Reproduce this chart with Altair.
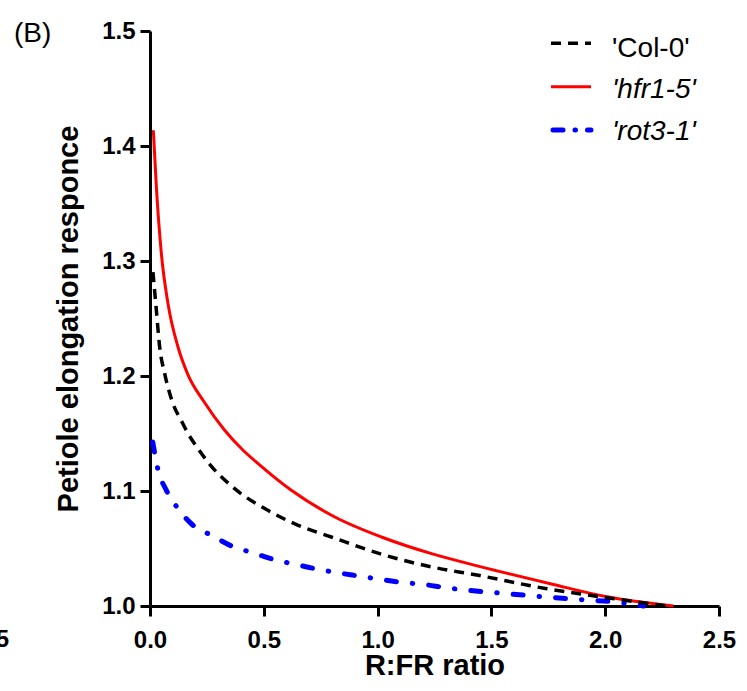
import altair as alt
import pandas as pd

# ---- data ----
series_names = ["'Col-0'", "'hfr1-5'", "'rot3-1'"]

col_x = [0.013, 0.028, 0.0425, 0.0645, 0.101, 0.138, 0.167, 0.211, 0.255, 0.372, 0.504, 0.651, 0.797,
         1.017, 1.237, 1.442, 1.744, 1.979, 2.27]
col_y = [1.2904, 1.257, 1.2252, 1.2021, 1.176, 1.161, 1.150, 1.1369, 1.125, 1.102, 1.0847, 1.0702, 1.060,
         1.045, 1.034, 1.0267, 1.015, 1.008, 1.0]

hfr_x = [0.0147, 0.028, 0.050, 0.079, 0.123, 0.167, 0.236, 0.328, 0.409, 0.475, 0.621, 0.812, 1.017,
         1.237, 1.442, 1.759, 2.008, 2.30]
hfr_y = [1.4137, 1.3643, 1.3064, 1.263, 1.2252, 1.201, 1.178, 1.1528, 1.1354, 1.1238, 1.1006, 1.0774, 1.060,
         1.0455, 1.0347, 1.0194, 1.008, 1.0]

rot_x = [0.012, 0.035, 0.072, 0.123, 0.189, 0.270, 0.358, 0.449, 0.541, 0.636, 0.724, 0.822, 0.915, 1.017,
         1.105, 1.208, 1.296, 1.395, 1.495, 1.686, 1.876, 2.067, 2.17]
rot_y = [1.1426, 1.1186, 1.1006, 1.0847, 1.0702, 1.0615, 1.0522, 1.0464, 1.0406, 1.0363, 1.0325, 1.029,
         1.0261, 1.023, 1.0206, 1.0186, 1.016, 1.0137, 1.012, 1.0087, 1.0058, 1.003, 1.0]

x_ticks = [0.0, 0.5, 1.0, 1.5, 2.0, 2.5]
y_ticks = [1.0, 1.1, 1.2, 1.3, 1.4, 1.5]

FONT = "Liberation Sans"

df = pd.concat([
    pd.DataFrame({"x": col_x, "y": col_y, "series": series_names[0]}),
    pd.DataFrame({"x": hfr_x, "y": hfr_y, "series": series_names[1]}),
    pd.DataFrame({"x": rot_x, "y": rot_y, "series": series_names[2]}),
])

X = alt.X("x:Q",
          scale=alt.Scale(domain=[0, 2.5], nice=False, zero=False),
          axis=alt.Axis(values=x_ticks, format=".1f", title="R:FR ratio",
                        labelPadding=12, titleY=68, titleBaseline="alphabetic",
                        labelFlush=False))
Y = alt.Y("y:Q",
          scale=alt.Scale(domain=[1.0, 1.5], nice=False, zero=False),
          axis=alt.Axis(values=y_ticks, format=".1f", title="Petiole elongation responce",
                        labelPadding=5, titleX=-73, titleBaseline="alphabetic"))

base = alt.Chart(df)

red = base.transform_filter(alt.datum.series == series_names[1]).mark_line(
    color="#ff0000", strokeWidth=3, interpolate="monotone").encode(x=X, y=Y)
blue = base.transform_filter(alt.datum.series == series_names[2]).mark_line(
    color="#0000ff", strokeWidth=5, strokeCap="round", strokeDash=[10, 16, 0.5, 16],
    interpolate="monotone").encode(x=X, y=Y)
black = base.transform_filter(alt.datum.series == series_names[0]).mark_line(
    color="#000000", strokeWidth=3.5, strokeDash=[10, 7],
    interpolate="monotone").encode(x=X, y=Y)

one = pd.DataFrame({"a": [0]})

leg_black = alt.Chart(one).mark_rule(color="#000000", strokeWidth=3.5, strokeDash=[10, 7]).encode(
    x=alt.value(401), x2=alt.value(441), y=alt.value(12.3))
leg_red = alt.Chart(one).mark_rule(color="#ff0000", strokeWidth=3).encode(
    x=alt.value(401), x2=alt.value(441), y=alt.value(55.7))
leg_blue = alt.Chart(one).mark_rule(color="#0000ff", strokeWidth=5, strokeCap="round",
                                    strokeDash=[10, 12, 0.5, 12]).encode(
    x=alt.value(403), x2=alt.value(441), y=alt.value(99))

t0 = alt.Chart(one).mark_text(text=series_names[0], font=FONT, fontSize=28, align="left",
                              baseline="alphabetic", color="black").encode(
    x=alt.value(462), y=alt.value(25.7))
t1 = alt.Chart(one).mark_text(text=series_names[1], font=FONT, fontSize=28, fontStyle="italic",
                              align="left", baseline="alphabetic", color="black").encode(
    x=alt.value(462), y=alt.value(67.3))
t2 = alt.Chart(one).mark_text(text=series_names[2], font=FONT, fontSize=28, fontStyle="italic",
                              align="left", baseline="alphabetic", color="black").encode(
    x=alt.value(462), y=alt.value(109))

panel = alt.Chart(one).mark_text(text="(B)", font=FONT, fontSize=28, align="left",
                                 baseline="alphabetic", color="black").encode(
    x=alt.value(-136), y=alt.value(10.7))
stray = alt.Chart(one).mark_text(text="5", font=FONT, fontSize=24, fontWeight="bold", align="right",
                                 baseline="alphabetic", color="black").encode(
    x=alt.value(-141), y=alt.value(615.7))

chart = alt.layer(red, blue, black, leg_black, leg_red, leg_blue, t0, t1, t2, panel, stray).properties(
    width=569, height=575,
    autosize=alt.AutoSizeParams(type="none"),
    padding={"left": 150, "top": 31, "right": 28, "bottom": 85},
    background="white",
).configure_view(stroke=None).configure_axis(
    grid=False,
    domainColor="black", domainWidth=3,
    tickColor="black", tickWidth=3, tickSize=10,
    labelFont=FONT, labelFontSize=24, labelFontWeight="bold", labelColor="black",
    titleFont=FONT, titleFontSize=29, titleFontWeight="bold", titleColor="black",
)

chart.save("out.html", embed_options={"renderer": "svg", "actions": False})
